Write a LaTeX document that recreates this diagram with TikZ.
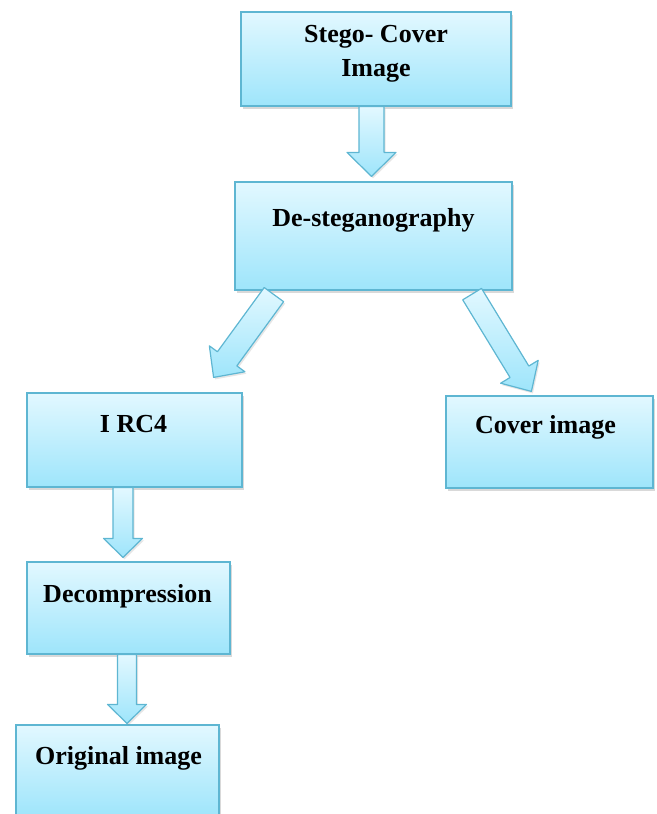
\documentclass[tikz,border=0pt]{standalone}
\usepackage{fontspec}
\setmainfont{Liberation Serif}
\usetikzlibrary{calc,shadows}

\definecolor{boxtop}{RGB}{226,248,255}
\definecolor{boxbot}{RGB}{158,229,251}
\definecolor{boxline}{RGB}{94,182,210}

\tikzset{
    stagebox/.style={draw=boxline, line width=1.2bp, top color=boxtop, bottom color=boxbot,
        drop shadow={shadow xshift=2bp, shadow yshift=-3bp, opacity=0.3}},
    lbl/.style={font=\bfseries\fontsize{26bp}{34bp}\selectfont, align=center, anchor=base, inner sep=0pt},
    fatarrow/.style={draw=boxline, line width=1.2bp, top color=boxtop, bottom color=boxbot, line join=round,
        drop shadow={shadow xshift=1.5bp, shadow yshift=-2bp, opacity=0.2}}
}

% from, to, shaft half width, head half width, head length
\newcommand{\fatarrow}[5]{%
    \coordinate (fa-h) at ($(#2)!#5!(#1)$);
    \draw[fatarrow] ($(#1)!#3!90:(#2)$) -- ($(fa-h)!#3!90:(#2)$) -- ($(fa-h)!#4!90:(#2)$)
        -- (#2) -- ($(fa-h)!#4!-90:(#2)$) -- ($(fa-h)!#3!-90:(#2)$) -- ($(#1)!#3!-90:(#2)$) -- cycle;
}

\begin{document}
\begin{tikzpicture}[x=1bp, y=-1bp]
    \useasboundingbox (0,0) rectangle (657,814);

    \node[stagebox, minimum width=270bp, minimum height=94bp] (stego) at (376,59) {};
    \node[stagebox, minimum width=277bp, minimum height=108bp] (desteg) at (373.5,236) {};
    \node[stagebox, minimum width=215bp, minimum height=94bp] (irc) at (134.5,440) {};
    \node[stagebox, minimum width=207bp, minimum height=92bp] (cover) at (549.5,442) {};
    \node[stagebox, minimum width=203bp, minimum height=92bp] (decomp) at (128.5,608) {};
    \node[stagebox, minimum width=203bp, minimum height=92bp] (orig) at (117.5,771) {};

    \node[lbl] (stego-t) at ($(stego.north)+(0,65)$) {Stego- Cover\\Image};
    \node[lbl] (desteg-t) at ($(desteg.north)+(0,45)$) {De-steganography};
    \node[lbl] (irc-t) at ($(irc.north)+(-1,40)$) {I RC4};
    \node[lbl] (cover-t) at ($(cover.north)+(-4,38)$) {Cover image};
    \node[lbl] (decomp-t) at ($(decomp.north)+(-1,41)$) {Decompression};
    \node[lbl] (orig-t) at ($(orig.north)+(1,40)$) {Original image};

    % block arrows
    \coordinate (a1-s) at ($(stego.south)+(-4.5,0)$);
    \coordinate (a1-e) at ($(desteg.north)+(-2,-5)$);
    \coordinate (a2-s) at ($(desteg.south west)+(39.5,4)$);
    \coordinate (a2-e) at ($(irc.north east)+(-29,-15)$);
    \coordinate (a3-s) at ($(desteg.south east)+(-40.5,3.5)$);
    \coordinate (a3-e) at ($(cover.north west)+(86,-4)$);
    \coordinate (a4-s) at ($(irc.south)+(-11.5,0)$);
    \coordinate (a4-e) at ($(decomp.north)+(-5.5,-4)$);
    \coordinate (a5-s) at ($(decomp.south)+(-1.5,0)$);
    \coordinate (a5-e) at ($(orig.north)+(9.5,-1)$);

    \fatarrow{a1-s}{a1-e}{12.5bp}{24.5bp}{24bp}
    \fatarrow{a2-s}{a2-e}{12bp}{22bp}{23bp}
    \fatarrow{a3-s}{a3-e}{11bp}{22bp}{23bp}
    \fatarrow{a4-s}{a4-e}{10bp}{19.5bp}{19bp}
    \fatarrow{a5-s}{a5-e}{9.5bp}{19.5bp}{19bp}
\end{tikzpicture}
\end{document}
